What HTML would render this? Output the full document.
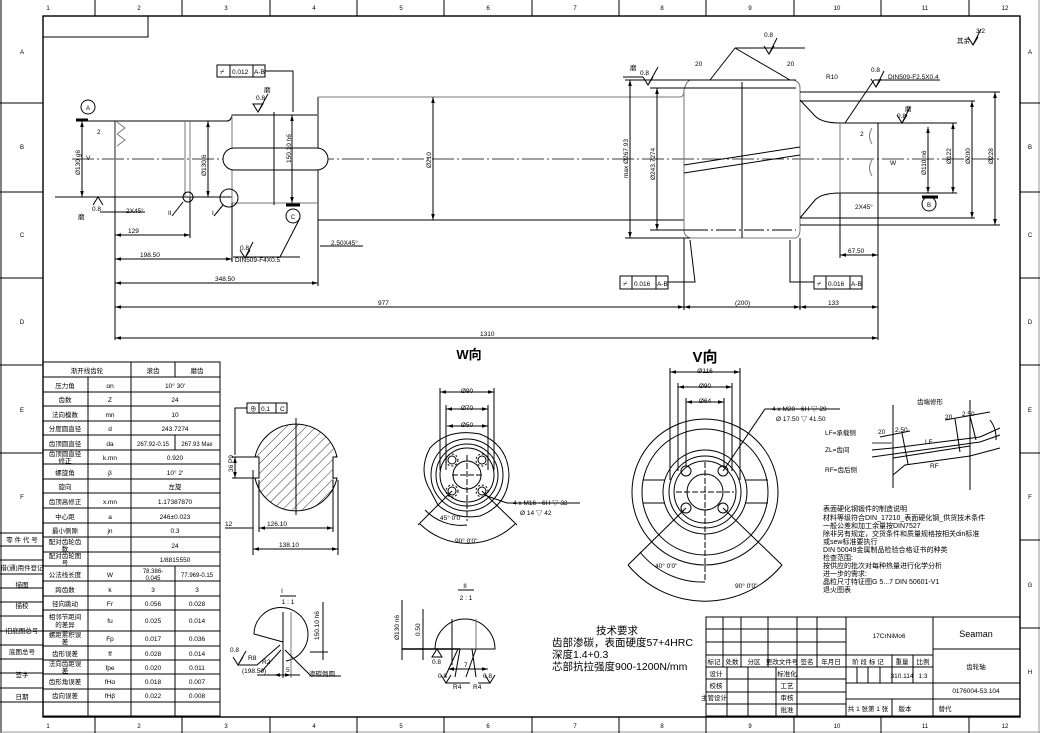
<!DOCTYPE html>
<html><head><meta charset="utf-8">
<style>
html,body{margin:0;padding:0;background:#fff;}
svg{display:block;font-family:"Liberation Sans","Noto Sans CJK SC",sans-serif;}
text{fill:#000;}
</style></head><body>
<svg width="1040" height="733" viewBox="0 0 1040 733" xmlns="http://www.w3.org/2000/svg">
<defs>
<marker id="a" viewBox="0 0 10 10" refX="10" refY="5" markerWidth="6" markerHeight="6" orient="auto-start-reverse"><path d="M0,2L10,5L0,8z" fill="#000"/></marker>
<pattern id="h" width="7" height="7" patternUnits="userSpaceOnUse" patternTransform="rotate(45)"><line x1="0" y1="0" x2="0" y2="7" stroke="#000" stroke-width="0.8"/></pattern>
</defs>
<g fill="none" stroke="#000" stroke-width="1">
<line x1="1" y1="0" x2="1" y2="733"/>
<rect x="43" y="16" width="977" height="701" stroke-width="1.4"/>
<line x1="1039" y1="0" x2="1039" y2="733" stroke="#999"/>
<line x1="0" y1="732" x2="1040" y2="732" stroke="#999"/>
<g stroke-width="1">
<line x1="95" y1="0" x2="95" y2="16"/><line x1="182" y1="0" x2="182" y2="16"/><line x1="270" y1="0" x2="270" y2="16"/><line x1="357" y1="0" x2="357" y2="16"/><line x1="444" y1="0" x2="444" y2="16"/><line x1="532" y1="0" x2="532" y2="16"/><line x1="619" y1="0" x2="619" y2="16"/><line x1="706" y1="0" x2="706" y2="16"/><line x1="794" y1="0" x2="794" y2="16"/><line x1="881" y1="0" x2="881" y2="16"/><line x1="969" y1="0" x2="969" y2="16"/>
<line x1="95" y1="717" x2="95" y2="733"/><line x1="182" y1="717" x2="182" y2="733"/><line x1="270" y1="717" x2="270" y2="733"/><line x1="357" y1="717" x2="357" y2="733"/><line x1="444" y1="717" x2="444" y2="733"/><line x1="532" y1="717" x2="532" y2="733"/><line x1="619" y1="717" x2="619" y2="733"/><line x1="706" y1="717" x2="706" y2="733"/><line x1="794" y1="717" x2="794" y2="733"/><line x1="881" y1="717" x2="881" y2="733"/><line x1="969" y1="717" x2="969" y2="733"/>
<line x1="1020" y1="103" x2="1040" y2="103"/><line x1="1020" y1="192" x2="1040" y2="192"/><line x1="1020" y1="278" x2="1040" y2="278"/><line x1="1020" y1="365" x2="1040" y2="365"/><line x1="1020" y1="453" x2="1040" y2="453"/><line x1="1020" y1="540" x2="1040" y2="540"/><line x1="1020" y1="628" x2="1040" y2="628"/>
<line x1="0" y1="103" x2="43" y2="103"/><line x1="0" y1="192" x2="43" y2="192"/><line x1="0" y1="278" x2="43" y2="278"/><line x1="0" y1="365" x2="43" y2="365"/><line x1="0" y1="453" x2="43" y2="453"/>
</g>
<rect x="43" y="16" width="105" height="21"/>
<g>
<line x1="0" y1="533" x2="43" y2="533"/><line x1="0" y1="546" x2="43" y2="546"/><line x1="0" y1="560" x2="43" y2="560"/><line x1="0" y1="574" x2="43" y2="574"/><line x1="0" y1="588" x2="43" y2="588"/><line x1="0" y1="602" x2="43" y2="602"/><line x1="0" y1="616" x2="43" y2="616"/><line x1="0" y1="631" x2="43" y2="631"/><line x1="0" y1="645" x2="43" y2="645"/><line x1="0" y1="659" x2="43" y2="659"/><line x1="0" y1="673" x2="43" y2="673"/><line x1="0" y1="688" x2="43" y2="688"/><line x1="0" y1="702" x2="43" y2="702"/>
</g>
<rect x="43" y="362" width="177" height="354"/>
<line x1="88" y1="377" x2="88" y2="716"/><line x1="131" y1="362" x2="131" y2="716"/><line x1="175" y1="362" x2="175" y2="377"/>
<line x1="175" y1="435" x2="175" y2="450"/><line x1="175" y1="566" x2="175" y2="716"/>
<g>
<line x1="43" y1="377" x2="220" y2="377"/><line x1="43" y1="392" x2="220" y2="392"/><line x1="43" y1="406" x2="220" y2="406"/><line x1="43" y1="421" x2="220" y2="421"/><line x1="43" y1="435" x2="220" y2="435"/><line x1="43" y1="450" x2="220" y2="450"/><line x1="43" y1="464" x2="220" y2="464"/><line x1="43" y1="479" x2="220" y2="479"/><line x1="43" y1="493" x2="220" y2="493"/><line x1="43" y1="508" x2="220" y2="508"/><line x1="43" y1="523" x2="220" y2="523"/><line x1="43" y1="537" x2="220" y2="537"/><line x1="43" y1="552" x2="220" y2="552"/><line x1="43" y1="566" x2="220" y2="566"/><line x1="43" y1="581" x2="220" y2="581"/><line x1="43" y1="596" x2="220" y2="596"/><line x1="43" y1="610" x2="220" y2="610"/><line x1="43" y1="631" x2="220" y2="631"/><line x1="43" y1="646" x2="220" y2="646"/><line x1="43" y1="660" x2="220" y2="660"/><line x1="43" y1="674" x2="220" y2="674"/><line x1="43" y1="689" x2="220" y2="689"/><line x1="43" y1="702" x2="220" y2="702"/>
</g>
<rect x="706" y="617" width="314" height="99"/>
<line x1="706" y1="629" x2="846" y2="629"/><line x1="706" y1="642" x2="846" y2="642"/><line x1="706" y1="655" x2="933" y2="655"/><line x1="706" y1="667" x2="933" y2="667"/><line x1="706" y1="679" x2="846" y2="679"/><line x1="706" y1="692" x2="846" y2="692"/><line x1="706" y1="704" x2="846" y2="704"/>
<line x1="846" y1="683" x2="1020" y2="683"/><line x1="846" y1="699" x2="1020" y2="699"/><line x1="933" y1="649" x2="1020" y2="649"/>
<line x1="846" y1="617" x2="846" y2="716"/><line x1="933" y1="617" x2="933" y2="716"/>
<line x1="723" y1="617" x2="723" y2="667"/><line x1="741" y1="617" x2="741" y2="667"/><line x1="768" y1="617" x2="768" y2="667"/><line x1="797" y1="617" x2="797" y2="667"/><line x1="817" y1="617" x2="817" y2="667"/>
<line x1="727" y1="667" x2="727" y2="716"/><line x1="748" y1="667" x2="748" y2="716"/><line x1="776" y1="667" x2="776" y2="716"/><line x1="797" y1="667" x2="797" y2="716"/>
<line x1="857" y1="667" x2="857" y2="683"/><line x1="868" y1="667" x2="868" y2="683"/><line x1="880" y1="667" x2="880" y2="683"/><line x1="892" y1="655" x2="892" y2="683"/><line x1="913" y1="655" x2="913" y2="683"/><line x1="892" y1="699" x2="892" y2="716"/>

<line x1="72" y1="159" x2="1000" y2="159" stroke-width="0.8" stroke-dasharray="22,3,2,3"/>
<line x1="115" y1="121" x2="115" y2="197" stroke="#777" stroke-width="1.6"/>
<line x1="82" y1="121" x2="227" y2="121"/><line x1="55" y1="197" x2="232" y2="197"/>
<line x1="185" y1="121" x2="185" y2="197" stroke="#777"/><line x1="190" y1="121" x2="190" y2="197" stroke="#777"/>
<path d="M227,121 Q231,121 232,115 L318,115"/><line x1="232" y1="203" x2="318" y2="203" stroke="#777"/>
<line x1="232" y1="115" x2="232" y2="203" stroke="#777"/>
<line x1="318" y1="97" x2="318" y2="220" stroke="#777" stroke-width="1.8"/>
<line x1="318" y1="97" x2="680" y2="97" stroke="#777"/><line x1="318" y1="220" x2="684" y2="220"/>
<rect x="223" y="148" width="105" height="22" rx="11" fill="#fff"/>
<line x1="274" y1="112" x2="274" y2="205"/>
<path d="M117,122 l8,6 l-8,6 M117,134 l8,6 l-8,6" stroke="#777"/>
<path d="M680,97 Q684,97 684,90 L684,230 Q684,236 690,238 L796,238 Q800,236 800,230 L800,88 Q800,82 794,80 L690,80 Q686,82 684,90" stroke="#777"/>
<line x1="690" y1="80" x2="796" y2="80"/>
<line x1="688" y1="88" x2="796" y2="88"/><line x1="688" y1="230" x2="796" y2="230" stroke-dasharray="20,3,2,3"/>
<line x1="742" y1="82" x2="742" y2="238"/>
<line x1="684" y1="165" x2="800" y2="147"/><line x1="684" y1="173" x2="800" y2="155"/>
<path d="M800,100 L815,116 Q822,123 840,123 L878,123 L878,193 L840,193 Q822,193 815,200 L800,218"/>
<line x1="840" y1="123" x2="840" y2="193" stroke="#777"/>
<path d="M872,128 q-5,8 0,16 M872,160 q-5,8 0,16" stroke="#777"/>
<line x1="800" y1="92" x2="1000" y2="92"/><line x1="800" y1="225" x2="1000" y2="225"/>
<line x1="800" y1="101" x2="975" y2="101"/><line x1="800" y1="218" x2="975" y2="218"/>
<line x1="878" y1="123" x2="957" y2="123"/><line x1="878" y1="193" x2="957" y2="193"/>
<line x1="82" y1="121" x2="82" y2="197" marker-start="url(#a)" marker-end="url(#a)"/>
<line x1="208" y1="121" x2="208" y2="197" marker-start="url(#a)" marker-end="url(#a)"/>
<line x1="292" y1="115" x2="292" y2="203" marker-start="url(#a)" marker-end="url(#a)"/>
<line x1="433" y1="97" x2="433" y2="220" marker-start="url(#a)" marker-end="url(#a)"/>
<line x1="630" y1="80" x2="630" y2="238" marker-start="url(#a)" marker-end="url(#a)"/>
<line x1="657" y1="88" x2="657" y2="230" marker-start="url(#a)" marker-end="url(#a)"/>
<line x1="625" y1="80" x2="690" y2="80"/><line x1="625" y1="238" x2="690" y2="238"/><line x1="650" y1="88" x2="690" y2="88"/><line x1="650" y1="230" x2="690" y2="230"/>
<line x1="928" y1="127" x2="928" y2="193" marker-start="url(#a)" marker-end="url(#a)"/>
<line x1="953" y1="123" x2="953" y2="193" marker-start="url(#a)" marker-end="url(#a)"/>
<line x1="972" y1="101" x2="972" y2="218" marker-start="url(#a)" marker-end="url(#a)"/>
<line x1="995" y1="92" x2="995" y2="225" marker-start="url(#a)" marker-end="url(#a)"/>
<line x1="922" y1="197" x2="938" y2="197" stroke-width="3"/>
<line x1="76" y1="120" x2="88" y2="120" stroke-width="3"/>
<line x1="286" y1="205" x2="300" y2="205" stroke-width="3"/>
<line x1="115" y1="197" x2="115" y2="340"/>
<line x1="190" y1="197" x2="190" y2="238"/><line x1="232" y1="203" x2="232" y2="262"/><line x1="318" y1="220" x2="318" y2="286"/>
<line x1="684" y1="238" x2="684" y2="310"/><line x1="800" y1="238" x2="800" y2="310"/><line x1="878" y1="193" x2="878" y2="340"/><line x1="840" y1="193" x2="840" y2="258"/>
<line x1="115" y1="235" x2="190" y2="235" marker-start="url(#a)" marker-end="url(#a)"/>
<line x1="115" y1="259" x2="232" y2="259" marker-start="url(#a)" marker-end="url(#a)"/>
<line x1="115" y1="283" x2="318" y2="283" marker-start="url(#a)" marker-end="url(#a)"/>
<line x1="115" y1="307" x2="684" y2="307" marker-start="url(#a)" marker-end="url(#a)"/>
<line x1="684" y1="307" x2="800" y2="307" marker-start="url(#a)" marker-end="url(#a)"/>
<line x1="800" y1="307" x2="878" y2="307" marker-start="url(#a)" marker-end="url(#a)"/>
<line x1="115" y1="338" x2="878" y2="338" marker-start="url(#a)" marker-end="url(#a)"/>
<line x1="840" y1="255" x2="878" y2="255" marker-start="url(#a)" marker-end="url(#a)"/>
<line x1="100" y1="212" x2="115" y2="212"/><line x1="115" y1="212" x2="145" y2="212"/>
<line x1="320" y1="246" x2="363" y2="246"/>
<circle cx="88" cy="107" r="7"/><circle cx="293" cy="216" r="7"/><circle cx="929" cy="204" r="7"/>
<circle cx="188" cy="197" r="5"/><circle cx="229" cy="198" r="9"/>
<line x1="183" y1="202" x2="172" y2="216"/><line x1="223" y1="205" x2="214" y2="216"/>
<rect x="217" y="65" width="48" height="12"/><line x1="230" y1="65" x2="230" y2="77"/><line x1="253" y1="65" x2="253" y2="77"/>
<path d="M265,71 L293,71 L293,112"/>
<rect x="620" y="276" width="48" height="13"/><line x1="632" y1="276" x2="632" y2="289"/><line x1="656" y1="276" x2="656" y2="289"/>
<path d="M668,282 L695,282 L690,240"/>
<rect x="814" y="276" width="48" height="13"/><line x1="826" y1="276" x2="826" y2="289"/><line x1="850" y1="276" x2="850" y2="289"/>
<path d="M814,282 L790,282 L790,240"/>
<path d="M253,104 l5,8 l5,-8 z M258,112 l10,-18 M764,46 l5,8 l5,-8 M769,54 l8,-16 M735,48 L805,48 M643,77 l5,8 l5,-8 M643,77 L623,77 M648,85 l10,-18 M871,79 l5,8 l5,-8 M876,87 l8,-16 M897,115 l5,8 l5,-8 M902,123 l8,-16 M874,80 L940,80 M93,205 l5,-8 l5,8 M240,250 l5,8 l5,-8 M245,258 l8,-16 M233,257 L300,257 M968,37 l5,8 l5,-8 M973,45 l8,-16"/>
<path d="M735,48 L710,80 M735,48 L790,80"/>
<path d="M874,80 L845,123"/>
<path d="M280,257 L300,218"/>
<!-- Section view -->
<path d="M255,457 A42,42 0 0 1 337,457 L333,457 L333,478 L337,478 A42,42 0 0 1 255,478 L259,478 L259,457 Z" fill="url(#h)"/>
<line x1="296" y1="418" x2="296" y2="515"/>
<rect x="247" y="403" width="40" height="10"/><line x1="259" y1="403" x2="259" y2="413"/><line x1="276" y1="403" x2="276" y2="413"/>
<path d="M247,408 L235,408 L235,455"/>
<line x1="235" y1="457" x2="235" y2="478" marker-start="url(#a)" marker-end="url(#a)"/>
<line x1="232" y1="457" x2="255" y2="457"/><line x1="232" y1="478" x2="255" y2="478"/>
<line x1="253" y1="470" x2="253" y2="555"/><line x1="259" y1="480" x2="259" y2="532"/><line x1="333" y1="480" x2="333" y2="532"/><line x1="338" y1="480" x2="338" y2="555"/>
<line x1="259" y1="528" x2="333" y2="528" marker-start="url(#a)" marker-end="url(#a)"/>
<line x1="253" y1="549" x2="338" y2="549" marker-start="url(#a)" marker-end="url(#a)"/>
<line x1="225" y1="528" x2="253" y2="528"/>
<!-- W view -->
<path d="M430,490 Q418,470 430,448 Q448,428 480,434 Q508,445 509,475 Q508,505 480,516 Q455,520 438,505 Z"/>
<circle cx="467" cy="475" r="36"/><circle cx="467" cy="475" r="31"/><circle cx="467" cy="475" r="27"/><circle cx="467" cy="475" r="14"/>
<circle cx="452" cy="460" r="4"/><circle cx="482" cy="460" r="4"/><circle cx="452" cy="491" r="4"/><circle cx="482" cy="491" r="4"/>
<circle cx="452" cy="460" r="6" stroke-dasharray="2,2"/><circle cx="482" cy="460" r="6" stroke-dasharray="2,2"/><circle cx="452" cy="491" r="6" stroke-dasharray="2,2"/><circle cx="482" cy="491" r="6" stroke-dasharray="2,2"/>
<line x1="452" y1="475" x2="482" y2="475" stroke-dasharray="6,2"/><line x1="467" y1="455" x2="467" y2="521" stroke-dasharray="6,2"/>
<line x1="440" y1="392" x2="494" y2="392" marker-start="url(#a)" marker-end="url(#a)"/>
<line x1="446" y1="409" x2="488" y2="409" marker-start="url(#a)" marker-end="url(#a)"/>
<line x1="447" y1="426" x2="488" y2="426" marker-start="url(#a)" marker-end="url(#a)"/>
<line x1="440" y1="388" x2="440" y2="470"/><line x1="494" y1="388" x2="494" y2="470"/><line x1="446" y1="405" x2="446" y2="470"/><line x1="488" y1="405" x2="488" y2="470"/>
<path d="M420,524 A68,68 0 0 0 515,524"/>
<line x1="482" y1="491" x2="517" y2="525"/><line x1="452" y1="491" x2="418" y2="525"/>
<path d="M487,496 L507,503 L580,503"/>
<path d="M425,510 A50,50 0 0 0 467,525"/>
<!-- V view -->
<circle cx="705" cy="492" r="73"/><circle cx="705" cy="492" r="63"/><circle cx="705" cy="492" r="42"/><circle cx="705" cy="492" r="36"/><circle cx="705" cy="492" r="31"/><circle cx="705" cy="492" r="18"/>
<circle cx="686" cy="471" r="5"/><circle cx="723" cy="471" r="5"/><circle cx="686" cy="508" r="5"/><circle cx="723" cy="508" r="5"/>
<line x1="643" y1="480" x2="665" y2="480"/><line x1="643" y1="503" x2="665" y2="503"/><line x1="745" y1="480" x2="768" y2="480"/><line x1="745" y1="503" x2="768" y2="503"/>
<line x1="676" y1="492" x2="734" y2="492" stroke-dasharray="6,2"/><line x1="705" y1="462" x2="705" y2="582" stroke-dasharray="6,2"/>
<line x1="670" y1="372" x2="740" y2="372" marker-start="url(#a)" marker-end="url(#a)"/>
<line x1="678" y1="387" x2="732" y2="387" marker-start="url(#a)" marker-end="url(#a)"/>
<line x1="686" y1="402" x2="724" y2="402" marker-start="url(#a)" marker-end="url(#a)"/>
<line x1="670" y1="368" x2="670" y2="480"/><line x1="740" y1="368" x2="740" y2="480"/><line x1="678" y1="383" x2="678" y2="471"/><line x1="732" y1="383" x2="732" y2="471"/><line x1="686" y1="398" x2="686" y2="466"/><line x1="724" y1="398" x2="724" y2="466"/>
<path d="M628,565 A100,100 0 0 0 782,565"/>
<path d="M640,552 A80,80 0 0 0 705,582"/>
<line x1="686" y1="508" x2="628" y2="565"/><line x1="723" y1="508" x2="782" y2="565"/>
<path d="M723,471 L765,409 L840,409"/>
<line x1="893" y1="405" x2="893" y2="488"/><line x1="970" y1="400" x2="970" y2="490"/>
<path d="M872,450 L893,448 L980,437 L1000,428"/><path d="M872,457 L980,442 L1000,435"/><path d="M893,458 L970,446"/>
<path d="M893,475 L905,465 L970,456 L1000,448"/>
<line x1="872" y1="443" x2="893" y2="443" stroke="#999" stroke-width="2"/>
<line x1="880" y1="437" x2="910" y2="431"/><line x1="945" y1="420" x2="990" y2="412"/>
<line x1="902" y1="433" x2="908" y2="464"/><line x1="955" y1="419" x2="960" y2="452"/><line x1="970" y1="416" x2="976" y2="440"/>
<path d="M990,420 A30,30 0 0 1 996,440"/>
<path d="M283,642 L254,634 A27,27 0 1 1 286,661"/>
<line x1="283" y1="612" x2="283" y2="678"/><line x1="291" y1="612" x2="291" y2="678" stroke="#777"/>
<line x1="323" y1="602" x2="323" y2="660"/><line x1="310" y1="652" x2="328" y2="652"/>
<path d="M233,657 l5,8 l5,-8 M238,665 l8,-14 M238,665 L257,665 L280,645 M261,672 L281,650 M285,650 L311,676 L341,676 M257,675 L300,675"/>
<line x1="274" y1="675" x2="291" y2="675" marker-start="url(#a)" marker-end="url(#a)"/>
<line x1="280" y1="596" x2="296" y2="596"/>
<path d="M435,649 A30,30 0 0 1 495,649 L435,649"/>
<line x1="452" y1="619" x2="452" y2="665"/><line x1="476" y1="619" x2="476" y2="649" stroke="#777"/>
<line x1="402" y1="649" x2="460" y2="649" stroke-width="1.4"/>
<line x1="402" y1="600" x2="402" y2="660"/><line x1="423" y1="609" x2="423" y2="660"/>
<path d="M437,649 l-5,8 l10,0 z"/>
<path d="M445,677 L458,649 M455,677 L460,649 M466,677 L476,649 M476,677 L472,649"/>
<path d="M441,675 l5,8 l5,-8 M485,675 l5,8 l5,-8 M446,683 L470,683 M490,683 L478,683"/>
<line x1="448" y1="669" x2="488" y2="669" marker-start="url(#a)" marker-end="url(#a)"/>
<line x1="458" y1="590" x2="474" y2="590"/>
</g>
<g font-size="6" text-anchor="middle">
<text x="48" y="10">1</text><text x="139" y="10">2</text><text x="226" y="10">3</text><text x="314" y="10">4</text><text x="401" y="10">5</text><text x="488" y="10">6</text><text x="575" y="10">7</text><text x="662" y="10">8</text><text x="750" y="10">9</text><text x="837" y="10">10</text><text x="925" y="10">11</text><text x="1005" y="10">12</text>
<text x="48" y="728">1</text><text x="139" y="728">2</text><text x="226" y="728">3</text><text x="314" y="728">4</text><text x="401" y="728">5</text><text x="488" y="728">6</text><text x="575" y="728">7</text><text x="662" y="728">8</text><text x="750" y="728">9</text><text x="837" y="728">10</text><text x="925" y="728">11</text><text x="1005" y="728">12</text>
<text x="22" y="54">A</text><text x="22" y="149">B</text><text x="22" y="237">C</text><text x="22" y="324">D</text><text x="22" y="412">E</text><text x="22" y="499">F</text>
<text x="1030" y="54">A</text><text x="1030" y="149">B</text><text x="1030" y="237">C</text><text x="1030" y="324">D</text><text x="1030" y="412">E</text><text x="1030" y="499">F</text><text x="1030" y="587">G</text><text x="1030" y="674">H</text>
</g>
<g font-size="6.5" text-anchor="middle">
<text x="22" y="542">零 件 代 号</text><text x="22" y="570">借(通)用件登记</text><text x="22" y="587">描图</text><text x="22" y="608">描校</text><text x="22" y="633">旧底图总号</text><text x="22" y="654">底图总号</text><text x="22" y="677">签字</text><text x="22" y="699">日期</text>
<text x="87" y="373">渐开线齿轮</text><text x="153" y="373">滚齿</text><text x="197" y="373">磨齿</text>
<text x="65" y="388">压力角</text><text x="110" y="388">αn</text><text x="175" y="388">10° 30'</text>
<text x="65" y="402">齿数</text><text x="110" y="402">Z</text><text x="175" y="402">24</text>
<text x="65" y="417">法向模数</text><text x="110" y="417">mn</text><text x="175" y="417">10</text>
<text x="65" y="431">分度圆直径</text><text x="110" y="431">d</text><text x="175" y="431">243.7274</text>
<text x="65" y="446">齿顶圆直径</text><text x="110" y="446">da</text><text x="153" y="446" font-size="6">267.92-0.15</text><text x="197" y="446" font-size="6">267.93 Max</text>
<text x="65" y="456">齿顶圆直径</text><text x="65" y="463">修正</text><text x="110" y="460">k.mn</text><text x="175" y="460">0.920</text>
<text x="65" y="475">螺旋角</text><text x="110" y="475">β</text><text x="175" y="475">10° 2'</text>
<text x="65" y="489">旋向</text><text x="175" y="489">左旋</text>
<text x="65" y="504">齿顶高修正</text><text x="110" y="504">x.mn</text><text x="175" y="504">1.17387870</text>
<text x="65" y="519">中心距</text><text x="110" y="519">a</text><text x="175" y="519">246±0.023</text>
<text x="65" y="533">最小侧隙</text><text x="110" y="533">jn</text><text x="175" y="533">0.3</text>
<text x="65" y="544">配对齿轮齿</text><text x="65" y="551">数</text><text x="175" y="548">24</text>
<text x="65" y="558">配对齿轮图</text><text x="65" y="565">号</text><text x="175" y="562">1/8815550</text>
<text x="65" y="577">公法线长度</text><text x="110" y="577">W</text><text x="153" y="573" font-size="6">78.386-</text><text x="153" y="580" font-size="6">0.045</text><text x="197" y="577" font-size="6">77.969-0.15</text>
<text x="65" y="592">跨齿数</text><text x="110" y="592">k</text><text x="153" y="592">3</text><text x="197" y="592">3</text>
<text x="65" y="606">径向跳动</text><text x="110" y="606">Fr</text><text x="153" y="606">0.056</text><text x="197" y="606">0.028</text>
<text x="65" y="619">相邻节距间</text><text x="65" y="627">的差异</text><text x="110" y="623">fu</text><text x="153" y="623">0.025</text><text x="197" y="623">0.014</text>
<text x="65" y="637">螺距累积误</text><text x="65" y="644">差</text><text x="110" y="641">Fp</text><text x="153" y="641">0.017</text><text x="197" y="641">0.036</text>
<text x="65" y="656">齿形误差</text><text x="110" y="656">ff</text><text x="153" y="656">0.028</text><text x="197" y="656">0.014</text>
<text x="65" y="666">法向齿距误</text><text x="65" y="673">差</text><text x="110" y="670">fpe</text><text x="153" y="670">0.020</text><text x="197" y="670">0.011</text>
<text x="65" y="684">齿形角误差</text><text x="110" y="684">fHα</text><text x="153" y="684">0.018</text><text x="197" y="684">0.007</text>
<text x="65" y="698">齿向误差</text><text x="110" y="698">fHβ</text><text x="153" y="698">0.022</text><text x="197" y="698">0.008</text>
</g>
<g font-size="6.5" text-anchor="middle">
<text x="889" y="638">17CrNiMo6</text><text x="976" y="637" font-size="9">Seaman</text>
<text x="714" y="664">标记</text><text x="732" y="664">处数</text><text x="754" y="664">分区</text><text x="782" y="664">更改文件号</text><text x="807" y="664">签名</text><text x="831" y="664">年月日</text>
<text x="868" y="664">阶 段 标 记</text><text x="902" y="664">重量</text><text x="923" y="664">比例</text>
<text x="976" y="669">齿轮轴</text><text x="976" y="693">0176004-53.104</text>
<text x="902" y="678">310.114</text><text x="923" y="678">1:3</text>
<text x="716" y="676">设计</text><text x="716" y="688">校核</text><text x="714" y="700">主管设计</text><text x="787" y="676">标准化</text><text x="787" y="688">工艺</text><text x="787" y="700">审核</text><text x="787" y="712">批准</text>
<text x="868" y="711">共 1 张第 1 张</text><text x="905" y="711">版本</text><text x="945" y="711">替代</text>
</g>
<g font-size="6.5">
<text x="88" y="110" text-anchor="middle" font-size="6">A</text><text x="293" y="219" text-anchor="middle" font-size="6">C</text><text x="929" y="207" text-anchor="middle" font-size="6">B</text>
<text x="220" y="74" font-size="7">⌿</text><text x="232" y="74">0.012</text><text x="254" y="74">A-B</text>
<text x="623" y="286" font-size="7">⌿</text><text x="634" y="286">0.016</text><text x="657" y="286">A-B</text>
<text x="817" y="286" font-size="7">⌿</text><text x="828" y="286">0.016</text><text x="851" y="286">A-B</text>
<text x="128" y="233">129</text><text x="140" y="257">198.50</text><text x="215" y="281">348.50</text><text x="378" y="305">977</text><text x="735" y="305">(200)</text><text x="828" y="305">133</text><text x="480" y="336">1310</text>
<text x="848" y="253">67.50</text><text x="126" y="213">2X45°</text><text x="855" y="209">2X45°</text><text x="331" y="245">2.50X45°</text><text x="235" y="262">DIN509-F4X0.5</text>
<text x="888" y="79">DIN509-F2.5X0.4</text><text x="826" y="79">R10</text>
<text x="256" y="100">0.8</text><text x="264" y="92">磨</text><text x="764" y="37">0.8</text><text x="640" y="75">0.8</text><text x="630" y="70">磨</text><text x="871" y="72">0.8</text><text x="897" y="118">0.8</text><text x="905" y="111">磨</text>
<text x="92" y="211">0.8</text><text x="78" y="219">磨</text><text x="240" y="250">0.8</text>
<text x="957" y="43">其余</text><text x="976" y="33">3.2</text>
<text x="695" y="66">20</text><text x="787" y="66">20</text>
<text x="97" y="134">2</text><text x="86" y="160">V</text><text x="168" y="215">II</text><text x="212" y="215">I</text>
<text x="860" y="136">2</text><text x="890" y="165">W</text>
<text transform="translate(80,175) rotate(-90)">Ø130 g6</text>
<text transform="translate(206,176) rotate(-90)">Ø130.6</text>
<text transform="translate(291,163) rotate(-90)">150.10 h6</text>
<text transform="translate(431,168) rotate(-90)">Ø210</text>
<text transform="translate(628,178) rotate(-90)">max Ø267.93</text>
<text transform="translate(655,180) rotate(-90)">Ø243.7274</text>
<text transform="translate(926,175) rotate(-90)">Ø110 n6</text>
<text transform="translate(951,164) rotate(-90)">Ø122</text>
<text transform="translate(970,164) rotate(-90)">Ø200</text>
<text transform="translate(993,164) rotate(-90)">Ø228</text>
<text transform="translate(233,472) rotate(-90)">36 P9</text>
<text x="250" y="411">⊕</text><text x="261" y="411">0.1</text><text x="280" y="411">C</text>
<text x="277" y="526" text-anchor="middle">126.10</text><text x="289" y="547" text-anchor="middle">138.10</text><text x="225" y="526">12</text>
<text x="467" y="393" text-anchor="middle">Ø90</text><text x="467" y="410" text-anchor="middle">Ø70</text><text x="467" y="427" text-anchor="middle">Ø50</text>
<text x="513" y="505">4 x  M16 - 6H ▽ 32</text><text x="520" y="515">Ø 14 ▽ 42</text>
<text x="440" y="520">45° 0'0"</text><text x="455" y="543">90° 0'0"</text>
<text x="705" y="373" text-anchor="middle">Ø116</text><text x="705" y="388" text-anchor="middle">Ø90</text><text x="705" y="403" text-anchor="middle">Ø64</text>
<text x="772" y="411">4 x  M20 - 6H ▽ 29</text><text x="776" y="421">Ø 17.50 ▽ 41.50</text>
<text x="655" y="568">40° 0'0"</text><text x="735" y="588">90° 0'0"</text>
<text x="917" y="404">齿端修形</text>
<text x="825" y="435">LF=承载侧</text><text x="825" y="452">ZL=齿间</text><text x="825" y="472">RF=齿后侧</text>
<text x="925" y="444">LF</text><text x="930" y="468">RF</text><text x="878" y="434">20</text><text x="895" y="432">2.50</text><text x="945" y="419">20</text><text x="962" y="416">2.50</text>
<text x="282" y="593" text-anchor="middle">I</text><text x="288" y="604" text-anchor="middle">1 : 1</text>
<text x="465" y="588" text-anchor="middle">II</text><text x="466" y="600" text-anchor="middle">2 : 1</text>
<text x="230" y="652">0.8</text><text x="248" y="660">R8</text><text x="262" y="664">R2</text><text x="242" y="673">(198.50)</text><text x="286" y="672">5</text><text x="309" y="676">渗碳倒圆</text>
<text transform="translate(319,640) rotate(-90)">150.10 h6</text>
<text transform="translate(399,640) rotate(-90)">Ø130 n6</text><text transform="translate(420,636) rotate(-90)">0.50</text>
<text x="432" y="664">0.8</text><text x="438" y="678">0.8</text><text x="483" y="678">0.8</text><text x="453" y="689">R4</text><text x="473" y="689">R4</text><text x="464" y="667">7</text>
</g>
<g font-size="7">
<text x="823" y="511">表面硬化钢锻件的制造说明</text>
<text x="823" y="520">材料等级符合DIN_17210_表面硬化钢_供货技术条件</text>
<text x="823" y="528">一般公差和加工余量按DIN7527</text>
<text x="823" y="536">除非另有规定，交货条件和质量规格按相关din标准</text>
<text x="823" y="544">或sew标准要执行</text>
<text x="823" y="552">DIN 50049金属制品检验合格证书的种类</text>
<text x="823" y="560">检查范围:</text>
<text x="823" y="568">按供应的批次对每种热量进行化学分析</text>
<text x="823" y="576">进一步的需求:</text>
<text x="823" y="584">晶粒尺寸特征图G 5...7  DIN 50601-V1</text>
<text x="823" y="592">退火图表</text>
</g>
<g font-size="10.5">
<text x="617" y="634" text-anchor="middle">技术要求</text>
<text x="552" y="646">齿部渗碳，表面硬度57+4HRC</text>
<text x="552" y="658">深度1.4+0.3</text>
<text x="552" y="670">芯部抗拉强度900-1200N/mm</text>
</g>
<text x="469" y="359" font-size="13" font-weight="bold" text-anchor="middle">W向</text>
<text x="705" y="362" font-size="15" font-weight="bold" text-anchor="middle">V向</text>
</svg>
</body></html>
